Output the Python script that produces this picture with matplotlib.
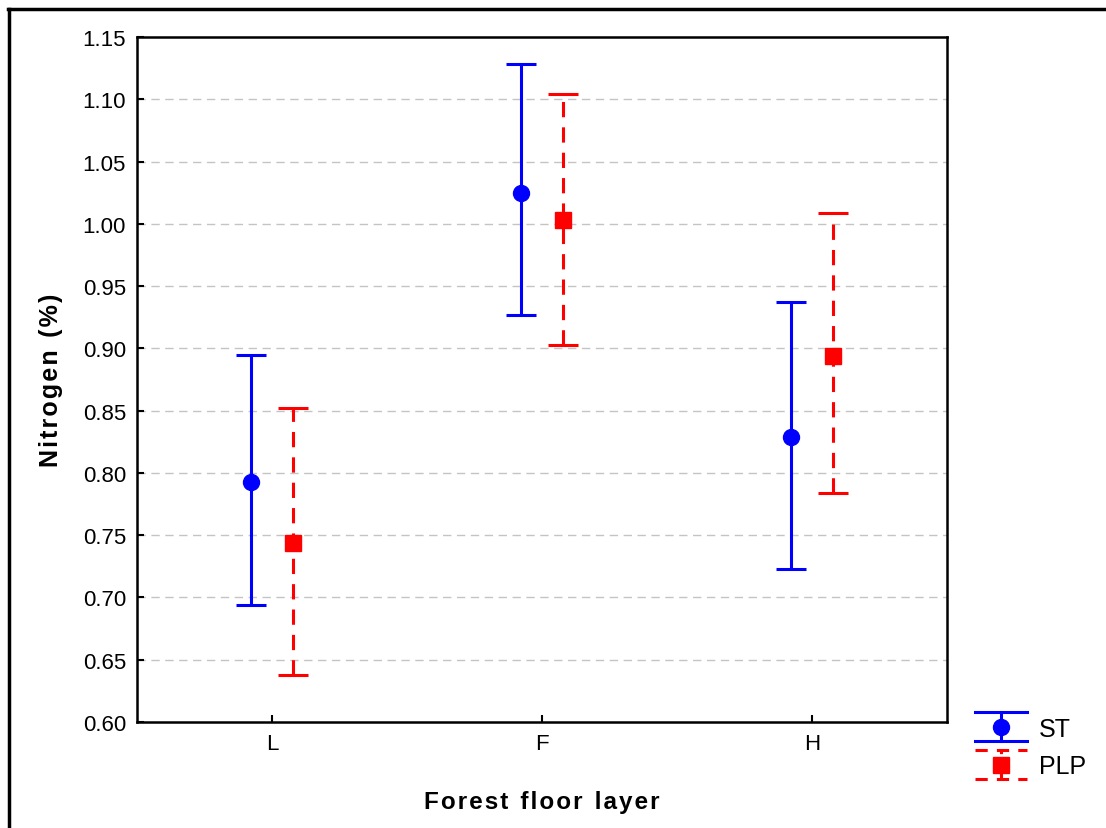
import matplotlib.pyplot as plt
import matplotlib as mpl
from matplotlib.lines import Line2D
from matplotlib.legend_handler import HandlerBase
import numpy as np

mpl.rcParams['font.family'] = ['Liberation Sans', 'DejaVu Sans']

layers = ['L', 'F', 'H']
st_mean = [0.793, 1.025, 0.829]
st_low = [0.694, 0.927, 0.723]
st_high = [0.895, 1.128, 0.937]
plp_mean = [0.744, 1.003, 0.894]
plp_low = [0.638, 0.903, 0.784]
plp_high = [0.852, 1.104, 1.009]
yticks = [0.60, 0.65, 0.70, 0.75, 0.80, 0.85, 0.90, 0.95, 1.00, 1.05, 1.10, 1.15]

DASH = (0, (5, 3.3))


class ErrHandler(HandlerBase):
    # vertical bar with full-width caps, like the legend of the original software
    def __init__(self, color, marker, ms, ls):
        super().__init__()
        self.color, self.marker, self.ms, self.ls = color, marker, ms, ls

    def create_artists(self, legend, orig, xd, yd, w, h, fontsize, trans):
        x0, x1 = -xd, -xd + w
        cx, cy = (x0 + x1) / 2, h / 2 - yd
        half = 10.5
        capls = '-' if self.ls == '-' else (0, (4, 3))
        arts = [
            Line2D([cx, cx], [cy - half, cy + half], color=self.color, lw=2.2, ls=self.ls),
            Line2D([x0, x1], [cy + half] * 2, color=self.color, lw=2.2, ls=capls),
            Line2D([x0, x1], [cy - half] * 2, color=self.color, lw=2.2, ls=capls),
            Line2D([cx], [cy], color=self.color, marker=self.marker, ms=self.ms, ls='none'),
        ]
        for a in arts:
            a.set_transform(trans)
        return arts


fig = plt.figure(figsize=(11.06, 8.29), dpi=100)
ax = fig.add_axes([137 / 1106, 1 - 723 / 829, 810 / 1106, 685 / 829])

pos = np.arange(len(layers)) + 0.5
off = 0.078

st_mean = np.array(st_mean)
plp_mean = np.array(plp_mean)
st_err = [st_mean - np.array(st_low), np.array(st_high) - st_mean]
plp_err = [plp_mean - np.array(plp_low), np.array(plp_high) - plp_mean]

st = ax.errorbar(pos - off, st_mean, yerr=st_err, fmt='o', color='#0000ff',
                 ms=11.5, elinewidth=2.2, capsize=11, capthick=2.2, label='ST', zorder=3)
plp = ax.errorbar(pos + off, plp_mean, yerr=plp_err, fmt='s', color='#ff0000',
                  ms=11, elinewidth=2.2, capsize=11, capthick=2.2, label='PLP', zorder=3)
plp[2][0].set_linestyle(DASH)

ax.set_xlim(0, 3)
ax.set_ylim(0.60, 1.15)
ax.set_xticks(pos)
ax.set_xticklabels(layers)
ax.set_yticks(yticks)
ax.set_yticklabels(['%.2f' % t for t in yticks])
ax.tick_params(direction='in', length=5, width=1.5, labelsize=16, pad=8)
for t in yticks[1:-1]:
    ax.axhline(t, color='#c4c4c4', lw=1, ls=(0, (6, 4)), zorder=1)
for s in ax.spines.values():
    s.set_linewidth(1.8)


def spaced(s):
    return '\u200a'.join(s).replace('\u200a \u200a', '\u2002')


ax.set_xlabel(spaced('Forest floor layer'), fontsize=17.5, fontweight='bold', labelpad=26)
ax.set_ylabel(spaced('Nitrogen (%)'), fontsize=18, fontweight='bold', labelpad=14)

fig.legend(handles=[st, plp], labels=['ST', 'PLP'], loc='center left',
           bbox_to_anchor=(953 / 1106, 1 - 748.5 / 829), frameon=False,
           fontsize=18, handlelength=2.05, handletextpad=0.5, labelspacing=0.55,
           borderpad=0.4,
           handler_map={st: ErrHandler('#0000ff', 'o', 11.5, '-'),
                        plp: ErrHandler('#ff0000', 's', 11, DASH)})

# outer frame (top and left edges only)
fig.add_artist(Line2D([8 / 1106, 1], [1 - 10 / 829, 1 - 10 / 829], color='black', lw=2.5))
fig.add_artist(Line2D([9 / 1106, 9 / 1106], [0, 1 - 10 / 829], color='black', lw=2.5))

fig.savefig('out.png', dpi=100)
